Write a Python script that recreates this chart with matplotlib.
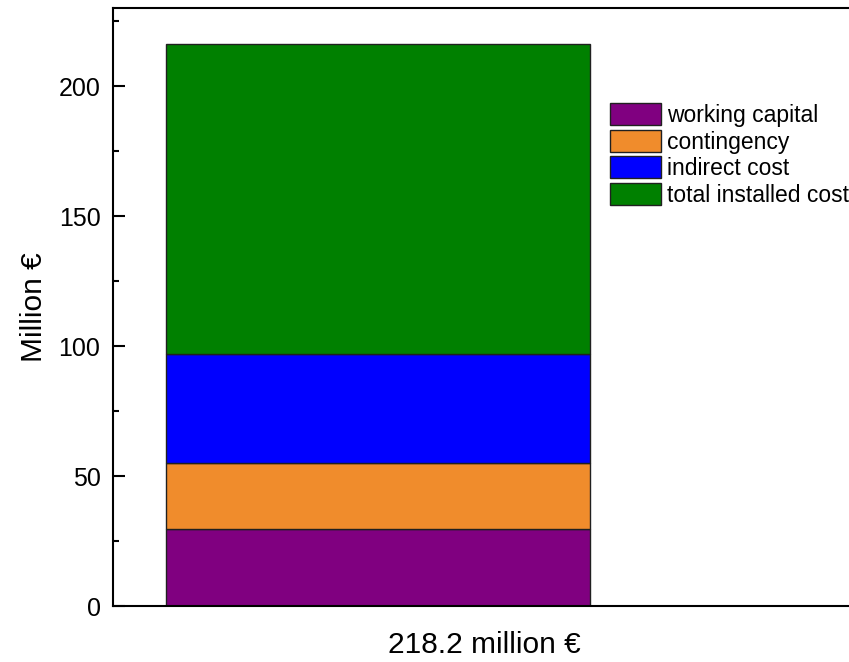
import numpy as np
import matplotlib.pyplot as plt
from matplotlib.ticker import MultipleLocator

plt.rc('font', family='Liberation Sans')

categories = ['working capital', 'contingency', 'indirect cost', 'total installed cost']
values = [29.8, 25.1, 42.0, 119.3]
colors = ['#800080', '#f08c2c', '#0000ff', '#008000']
xlabel = '218.2 million €'

fig = plt.figure(figsize=(8.49, 6.62), dpi=100)
ax = fig.add_axes([113 / 849, 56 / 662, 742 / 849, 598 / 662])

bottom = 0
handles = []
for cat, val, col in zip(categories, values, colors):
    h = ax.bar(0, val, width=0.571, bottom=bottom, color=col, edgecolor='#202020',
               linewidth=1.0, label=cat)
    handles.append(h)
    bottom += val

ax.set_xlim(-0.357, 0.643)
ax.set_ylim(0, 230)
ax.yaxis.set_major_locator(MultipleLocator(50))
ax.yaxis.set_minor_locator(MultipleLocator(25))
ax.tick_params(axis='y', which='major', direction='in', length=8.5, width=1.5,
               labelsize=18, pad=9)
ax.tick_params(axis='y', which='minor', direction='in', length=4.3, width=1.5)
ax.set_xticks([])
for s in ['left', 'top', 'bottom']:
    ax.spines[s].set_linewidth(1.5)
ax.spines['right'].set_visible(False)

ax.set_xlabel(xlabel, fontsize=21.5, labelpad=18)
ax.set_ylabel('Million €', fontsize=21.5, labelpad=8)

ax.legend(handles=handles, labels=categories, loc='upper left',
          bbox_to_anchor=(0.670, 0.841), frameon=False, fontsize=16.5,
          handlelength=2.2, handleheight=1.09, labelspacing=0.13,
          handletextpad=0.3, borderaxespad=0, borderpad=0)

fig.savefig('out.png', dpi=100)
